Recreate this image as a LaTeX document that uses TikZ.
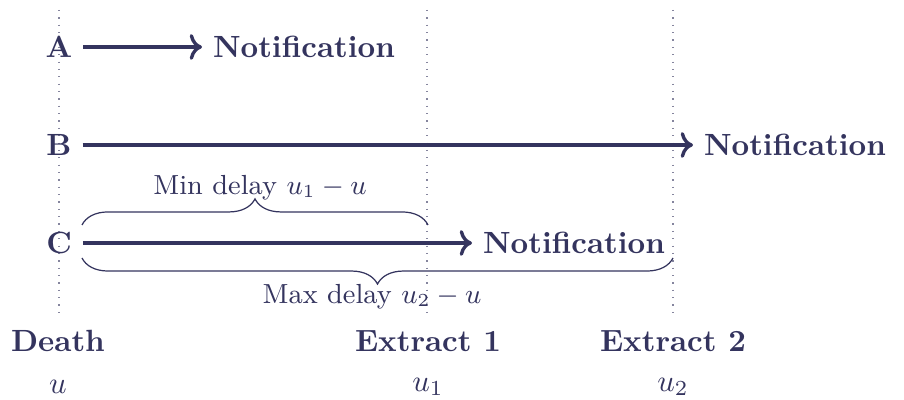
\documentclass[tikz,border=0pt]{standalone}
\usetikzlibrary{decorations.pathreplacing,arrows.meta}
\definecolor{navy}{RGB}{52,52,94}
\begin{document}
\begin{tikzpicture}[x=0.326pt,y=-0.326pt,
  every node/.style={text=navy},
  lbl/.style={font=\bfseries,inner sep=3.4pt},
  arr/.style={draw=navy,line width=1.1pt,->},
  guide/.style={draw=navy!60,dotted,line width=0.4pt},
  brc/.style={draw=navy,line width=0.4pt,decorate,decoration={brace,amplitude=8.5pt}},
  brl/.style={font=\small}]
\useasboundingbox (0,0) rectangle (904,400);
% guides
\coordinate (g0t) at (59,10); \coordinate (g0b) at (59,318);
\coordinate (g1t) at (427,10); \coordinate (g1b) at (427,318);
\coordinate (g2t) at (673,10); \coordinate (g2b) at (673,318);
\draw[guide] (g0t) -- (g0b);
\draw[guide] (g1t) -- (g1b);
\draw[guide] (g2t) -- (g2b);
% rows
\node[lbl] (A) at (59,47) {A};
\node[lbl] (B) at (59,145) {B};
\node[lbl] (C) at (59,243) {C};
\node[lbl,anchor=west] (nA) at (202,47) {Notification};
\node[lbl,anchor=west] (nB) at (693,145) {Notification};
\node[lbl,anchor=west] (nC) at (472,243) {Notification};
\draw[arr] (A) -- (nA);
\draw[arr] (B) -- (nB);
\draw[arr] (C) -- (nC);
% braces
\coordinate (b1s) at (82,225); \coordinate (b1e) at (428,225);
\coordinate (b2s) at (82,258); \coordinate (b2e) at (673,258);
\draw[brc] (b1s) -- (b1e);
\draw[brc,decoration={mirror}] (b2s) -- (b2e);
\node[brl] (minl) at (260,188) {Min delay $u_1-u$};
\node[brl] (maxl) at (372,297) {Max delay $u_2-u$};
% bottom labels
\node[lbl] (death) at (58,341) {Death};
\node[lbl] (ex1) at (428,341) {Extract 1};
\node[lbl] (ex2) at (673,341) {Extract 2};
\node (u0) at (58,387) {$u$};
\node (u1) at (428,387) {$u_1$};
\node (u2) at (673,387) {$u_2$};
\end{tikzpicture}
\end{document}
